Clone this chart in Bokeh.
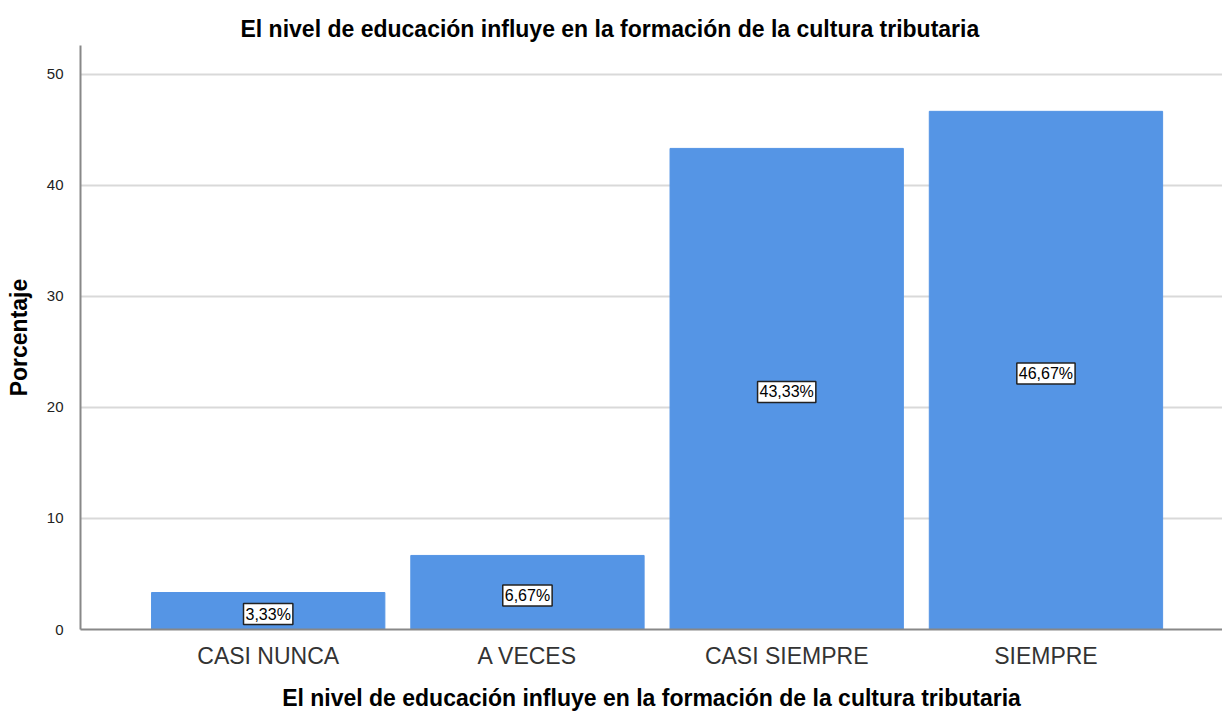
from bokeh.plotting import figure
from bokeh.models import ColumnDataSource, Range1d, FixedTicker
from bokeh.core.properties import value
from bokeh.embed import file_html
from bokeh.resources import INLINE

categories = ["CASI NUNCA", "A VECES", "CASI SIEMPRE", "SIEMPRE"]
values = [3.33, 6.67, 43.33, 46.67]
labels = ["3,33%", "6,67%", "43,33%", "46,67%"]
y_ticks = [0, 10, 20, 30, 40, 50]

xs = list(range(len(categories)))
src = ColumnDataSource(dict(
    x=xs, top=values, mid=[v / 2 for v in values], lab=labels,
))

p = figure(width=1222, height=713, output_backend="svg", toolbar_location=None,
           x_range=Range1d(-0.724, 3.681), y_range=Range1d(0, 52.6),
           min_border_left=80, min_border_right=0, min_border_top=45,
           min_border_bottom=83)
p.title.text = "El nivel de educación influye en la formación de la cultura tributaria"
p.title.align = "left"
p.title.offset = 160
p.title.text_font = "Liberation Sans"
p.title.text_font_size = "23px"
p.title.text_font_style = "bold"
p.title.text_color = "#000000"
p.title.standoff = 8

p.vbar(x="x", top="top", width=0.9, bottom=0, source=src,
       fill_color="#5595E5", line_color="#5595E5")

p.text(x="x", y="mid", text="lab", source=src, text_align="center",
       text_baseline="middle", text_font=value("Liberation Sans"),
       text_font_size="16px", text_color="#000000",
       background_fill_color="white", border_line_color="#222222",
       border_line_width=1.5, padding=2, y_offset=3)

p.outline_line_color = None
p.xgrid.visible = False
p.ygrid.ticker = FixedTicker(ticks=y_ticks)
p.ygrid.grid_line_color = "#d9d9d9"
p.ygrid.grid_line_width = 2
p.ygrid.level = "underlay"

p.yaxis.ticker = FixedTicker(ticks=y_ticks)
p.yaxis.axis_line_color = "#888888"
p.yaxis.axis_line_width = 2
p.yaxis.major_tick_line_color = None
p.yaxis.minor_tick_line_color = None
p.yaxis.major_label_text_font = "Liberation Sans"
p.yaxis.major_label_text_font_size = "15px"
p.yaxis.major_label_text_color = "#222222"
p.yaxis.major_label_standoff = 11
p.yaxis.axis_label = "Porcentaje"
p.yaxis.axis_label_text_font = "Liberation Sans"
p.yaxis.axis_label_text_font_size = "23px"
p.yaxis.axis_label_text_font_style = "bold"
p.yaxis.axis_label_text_color = "#000000"
p.yaxis.axis_label_standoff = 12

p.xaxis.ticker = FixedTicker(ticks=xs)
p.xaxis.major_label_overrides = {i: c for i, c in enumerate(categories)}
p.xaxis.axis_line_color = "#888888"
p.xaxis.axis_line_width = 2
p.xaxis.major_tick_line_color = None
p.xaxis.minor_tick_line_color = None
p.xaxis.major_label_text_font = "Liberation Sans"
p.xaxis.major_label_text_font_size = "23px"
p.xaxis.major_label_text_color = "#333333"
p.xaxis.major_label_standoff = 7
p.xaxis.axis_label = "El nivel de educación influye en la formación de la cultura tributaria"
p.xaxis.axis_label_text_font = "Liberation Sans"
p.xaxis.axis_label_text_font_size = "23px"
p.xaxis.axis_label_text_font_style = "bold"
p.xaxis.axis_label_text_color = "#000000"
p.xaxis.axis_label_standoff = 13

open("out.html", "w").write(file_html(p, INLINE))
